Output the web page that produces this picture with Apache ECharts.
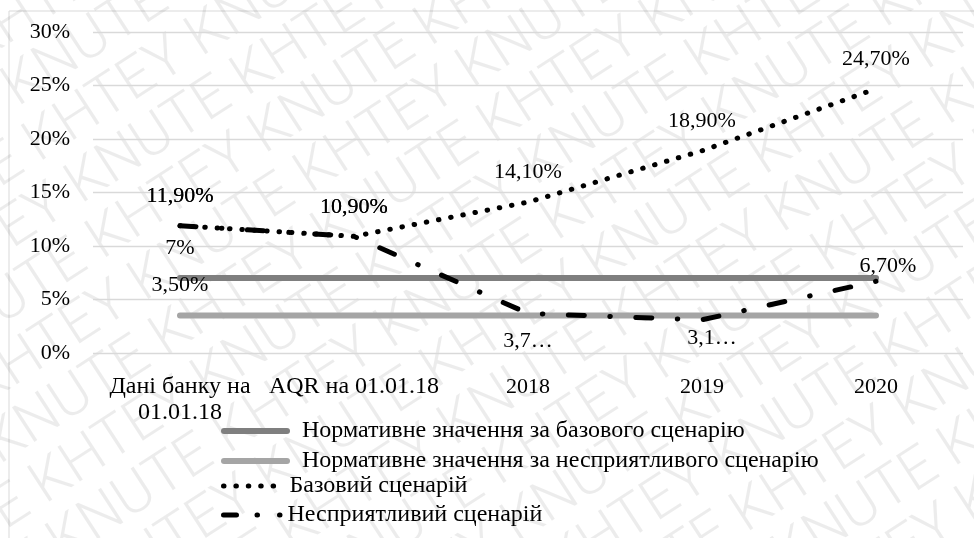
<!DOCTYPE html>
<html>
<head>
<meta charset="utf-8">
<script src="https://cdn.jsdelivr.net/npm/echarts@6/dist/echarts.min.js"></script>
<style>
  html, body { margin: 0; padding: 0; background: #fff; }
  #chart { width: 974px; height: 538px; }
</style>
</head>
<body>
<div id="chart"></div>
<script>
// Categories and values (percent)
const categories = ['Дані банку на\n01.01.18', 'AQR на 01.01.18', '2018', '2019', '2020'];
const normBase = [7, 7, 7, 7, 7];
const normAdverse = [3.5, 3.5, 3.5, 3.5, 3.5];
const baseScenario = [11.9, 10.9, 14.1, 18.9, 24.7];
const adverseScenario = [11.9, 10.9, 3.7, 3.1, 6.7];
const seriesNames = [
  'Нормативне значення за базового сценарію',
  'Нормативне значення за несприятливого сценарію',
  'Базовий сценарій',
  'Несприятливий сценарій'
];
const yTicks = { min: 0, max: 30, interval: 5 };

const SERIF = 'Liberation Serif, Times New Roman, serif';
const TXT = '#000';
const CLEAR = 'rgba(0,0,0,0)';

// value -> "11,90%" / "7%"; truncated labels -> "3,7…"
function pct(v) {
  return Number.isInteger(v) ? v + '%' : v.toFixed(2).replace('.', ',') + '%';
}
function truncPct(v) {
  return v.toFixed(1).replace('.', ',') + '…';
}

const baseLabel = { show: true, fontFamily: SERIF, fontSize: 22, color: TXT };

function firstOnly(values, distance) {
  return values.map((v, i) => i === 0
    ? { value: v, label: Object.assign({}, baseLabel, { position: 'top', distance: distance, formatter: p => pct(p.value) }) }
    : { value: v, label: { show: false } });
}

const adverseLabelStyle = [
  { position: 'top', distance: 18, fmt: pct },
  { position: 'top', distance: 18, fmt: pct },
  { position: 'bottom', distance: 16, fmt: truncPct },
  { position: 'bottom', distance: 7, fmt: truncPct, offset: [10, 0] },
  { position: 'top', distance: 4, fmt: pct, offset: [12, 0] }
];

const adverseData = adverseScenario.map((v, i) => {
  const s = adverseLabelStyle[i];
  return {
    value: v,
    label: Object.assign({}, baseLabel, {
      position: s.position, distance: s.distance, offset: s.offset || [0, 0],
      formatter: p => s.fmt(p.value)
    })
  };
});

// category labels: text labels a little larger than the year labels
const categoryData = categories.map((c, i) => ({
  value: c,
  textStyle: { fontSize: i < 2 ? 24 : 22 }
}));

// faint diagonal background lettering
const wmLines = [];
for (let i = -12; i <= 12; i++) {
  wmLines.push({
    type: 'text',
    x: -1100 + ((i % 2 + 2) % 2) * 210,
    y: i * 58,
    style: {
      text: 'KHTEY KNUTE KHTEY KNUTE KHTEY KNUTE KHTEY KNUTE KHTEY KNUTE KHTEY KNUTE',
      fill: 'rgba(0,0,0,0.075)',
      font: '300 58px Roboto, "Liberation Sans", sans-serif',
      verticalAlign: 'middle'
    }
  });
}

const legendLines = [
  { color: '#7f7f7f', width: 6, type: 'solid', cap: 'round' },
  { color: '#a5a5a5', width: 6, type: 'solid', cap: 'round' },
  { color: '#000', width: 5, type: [0.5, 11.9], cap: 'round' },
  { color: '#000', width: 5, type: [13, 20.5, 0.5, 22, 0.5, 40], cap: 'round' }
];

function legendBox(idx, top, itemWidth, textPad) {
  return {
    show: true,
    orient: 'horizontal',
    left: 221,
    top: top,
    padding: 0,
    data: [{
      name: seriesNames[idx],
      lineStyle: legendLines[idx],
      itemStyle: { color: CLEAR, borderWidth: 0 }
    }],
    itemWidth: itemWidth,
    itemHeight: 14,
    textStyle: { fontFamily: SERIF, fontSize: 24, color: TXT, lineHeight: 24, padding: [0, 0, 0, textPad] },
    selectedMode: false
  };
}

const chart = echarts.init(document.getElementById('chart'), null, { renderer: 'canvas' });
chart.setOption({
  animation: false,
  backgroundColor: '#fff',
  graphic: [
    { type: 'group', x: 487, y: 269, rotation: 33 * Math.PI / 180, z: -10, silent: true, children: wmLines },
    { type: 'rect', shape: { x: 9, y: 11, width: 1000, height: 600 }, style: { fill: 'none', stroke: '#d9d9d9', lineWidth: 1 }, z: -5, silent: true }
  ],
  grid: { left: 93, right: 11, top: 32, bottom: 185, containLabel: false },
  legend: [
    legendBox(0, 419, 63, 10),
    legendBox(1, 449, 63, 10),
    legendBox(2, 474, 61, 0),
    legendBox(3, 503, 59, 0)
  ],
  xAxis: {
    type: 'category',
    data: categoryData,
    boundaryGap: true,
    axisLine: { show: false },
    axisTick: { show: false },
    axisLabel: { fontFamily: SERIF, fontSize: 22, color: TXT, lineHeight: 26, margin: 21, interval: 0 }
  },
  yAxis: {
    type: 'value',
    min: yTicks.min,
    max: yTicks.max,
    interval: yTicks.interval,
    axisLine: { show: false },
    axisTick: { show: false },
    axisLabel: { fontFamily: SERIF, fontSize: 22, color: TXT, margin: 23, formatter: '{value}%' },
    splitLine: { lineStyle: { color: '#d9d9d9', width: 1.3 } }
  },
  series: [
    {
      name: seriesNames[0], type: 'line', data: firstOnly(normBase, 18),
      symbol: 'circle', symbolSize: 1, showSymbol: true, itemStyle: { color: CLEAR },
      lineStyle: { color: '#7f7f7f', width: 6, cap: 'round' }
    },
    {
      name: seriesNames[1], type: 'line', data: firstOnly(normAdverse, 19),
      symbol: 'circle', symbolSize: 1, showSymbol: true, itemStyle: { color: CLEAR },
      lineStyle: { color: '#a5a5a5', width: 6, cap: 'round' }
    },
    {
      name: seriesNames[2], type: 'line',
      symbol: 'circle', symbolSize: 1, showSymbol: true, itemStyle: { color: CLEAR },
      data: baseScenario,
      label: Object.assign({}, baseLabel, { position: 'top', distance: 18, formatter: p => pct(p.value) }),
      lineStyle: { color: '#000', width: 5, type: [0.5, 11.9], cap: 'round' }
    },
    {
      name: seriesNames[3], type: 'line',
      symbol: 'circle', symbolSize: 1, showSymbol: true, itemStyle: { color: CLEAR },
      data: adverseData,
      lineStyle: { color: '#000', width: 5, type: [16, 25.5, 0.5, 25.5], cap: 'round' }
    }
  ]
});
</script>
</body>
</html>
